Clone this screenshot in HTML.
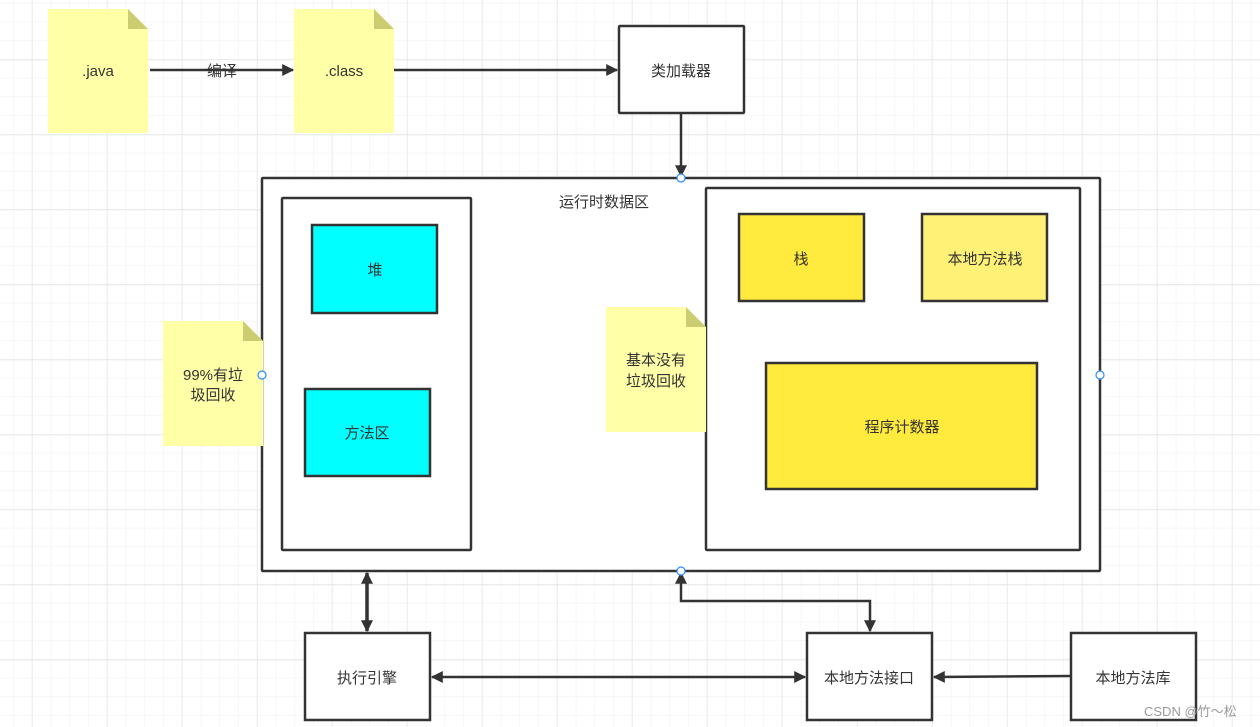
<!DOCTYPE html>
<html><head><meta charset="utf-8"><style>
body{margin:0;background:#fff}
svg{display:block}
text{font-family:"Liberation Sans","Noto Sans CJK SC",sans-serif;font-size:15px;fill:#333}
</style></head><body>
<svg width="1260" height="727" viewBox="0 0 1260 727" xmlns="http://www.w3.org/2000/svg">
<defs>
<pattern id="g" x="13.3" y="2.8" width="18.75" height="18.75" patternUnits="userSpaceOnUse"><path d="M0 0H18.75M0 0V18.75" stroke="#efefef" stroke-width="1" fill="none"/></pattern>
<pattern id="G" x="31.7" y="59.5" width="75" height="75" patternUnits="userSpaceOnUse"><path d="M0 0H75M0 0V75" stroke="#e6e6e6" stroke-width="1.5" fill="none"/></pattern>
<marker id="b" viewBox="0 0 10 10" refX="9" refY="5" markerWidth="16" markerHeight="12" orient="auto-start-reverse" markerUnits="userSpaceOnUse"><path d="M0 0L10 5L0 10z" fill="#333"/></marker>
</defs>
<rect width="1260" height="727" fill="url(#g)"/>
<rect width="1260" height="727" fill="url(#G)"/>
<g stroke="#333" stroke-width="2.5" fill="#fff">
<rect x="619" y="26" width="125" height="87" rx="1"/>
<rect x="262" y="178" width="838" height="393" rx="1"/>
<rect x="282" y="198" width="189" height="352" rx="1"/>
<rect x="706" y="188" width="374" height="362" rx="1"/>
<rect x="312" y="225" width="125" height="88" fill="#00ffff"/>
<rect x="305" y="389" width="125" height="87" fill="#00ffff"/>
<rect x="739" y="214" width="125" height="87" fill="#ffea3d"/>
<rect x="922" y="214" width="125" height="87" fill="#fff176"/>
<rect x="766" y="363" width="271" height="126" fill="#ffea3d"/>
<rect x="305" y="633" width="125" height="87"/>
<rect x="807" y="633" width="125" height="87"/>
<rect x="1071" y="633" width="125" height="87"/>
</g>
<g fill="#ffffa8">
<path d="M48 9H128L148 29V133H48z"/><path d="M294 9H374L394 29V133H294z"/>
<path d="M163 321H243L263 341V446H163z"/><path d="M606 307H686L706 327V432H606z"/>
</g>
<g fill="#cccc70">
<path d="M128 9L148 29H128z"/><path d="M374 9L394 29H374z"/><path d="M243 321L263 341H243z"/><path d="M686 307L706 327H686z"/>
</g>
<g stroke="#333" stroke-width="2.5" fill="none">
<line x1="150" y1="70" x2="293" y2="70" marker-end="url(#b)"/>
<line x1="394" y1="70" x2="617" y2="70" marker-end="url(#b)"/>
<line x1="681" y1="114" x2="681" y2="176" marker-end="url(#b)"/>
<line x1="367" y1="573" x2="367" y2="631" stroke-width="3.5" marker-start="url(#b)" marker-end="url(#b)"/>
<line x1="432" y1="677" x2="805" y2="677" marker-start="url(#b)" marker-end="url(#b)"/>
<path d="M681 573V601H870V631" marker-start="url(#b)" marker-end="url(#b)"/>
<line x1="1070" y1="676" x2="934" y2="677" marker-end="url(#b)"/>
</g>
<g fill="#fff" stroke="#2b8cff" stroke-width="1.2">
<circle cx="262" cy="375" r="4"/><circle cx="681" cy="178" r="4"/><circle cx="1100" cy="375" r="4"/><circle cx="681" cy="571" r="4"/>
</g>
<g text-anchor="middle">
<text x="98" y="76">.java</text>
<text x="222" y="76">编译</text>
<text x="344" y="76">.class</text>
<text x="681" y="76">类加载器</text>
<text x="604" y="207">运行时数据区</text>
<text x="375" y="275">堆</text>
<text x="367" y="438">方法区</text>
<text x="801" y="264">栈</text>
<text x="985" y="264">本地方法栈</text>
<text x="902" y="432">程序计数器</text>
<text x="213" y="380">99%有垃</text>
<text x="213" y="400">圾回收</text>
<text x="656" y="365">基本没有</text>
<text x="656" y="386">垃圾回收</text>
<text x="367" y="683">执行引擎</text>
<text x="869" y="683">本地方法接口</text>
<text x="1133" y="683">本地方法库</text>
</g>
<text x="1144" y="716" style="font-size:13px;fill:#999">CSDN @竹～松</text>
</svg>
</body></html>
